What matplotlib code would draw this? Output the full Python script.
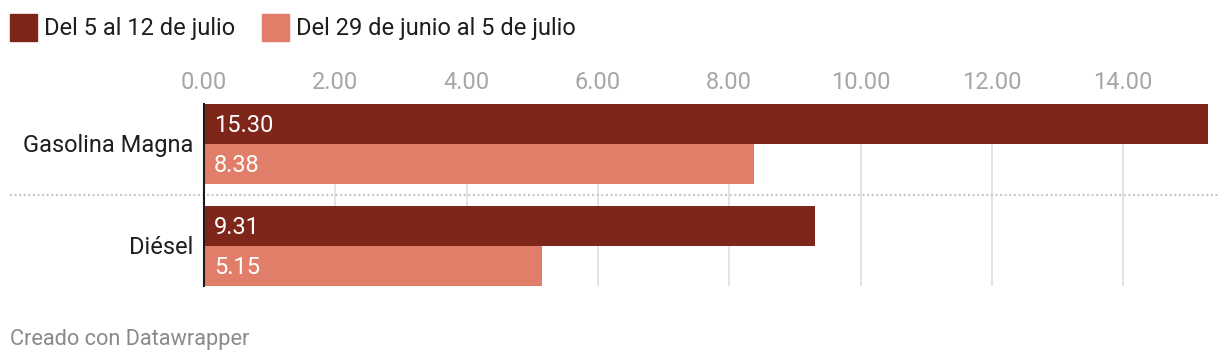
import matplotlib.pyplot as plt
from matplotlib.patches import Rectangle
from matplotlib.transforms import blended_transform_factory

# Datos
categorias = ["Gasolina Magna", "Diésel"]
serie_nombres = ["Del 5 al 12 de julio", "Del 29 de junio al 5 de julio"]
valores_reciente = [15.30, 9.31]
valores_anterior = [8.38, 5.15]
ticks = [0, 2, 4, 6, 8, 10, 12, 14]

dark = "#7f261b"
light = "#e07e69"
text_col = "#1e1e1e"

plt.rcParams['font.family'] = ['Roboto', 'DejaVu Sans']

W, H = 1220, 364
fig = plt.figure(figsize=(W / 100, H / 100), dpi=100)

# Ejes en coordenadas de píxel
left, right, top, bottom = 204, 1220, 104, 286
ax = fig.add_axes([left / W, 1 - bottom / H, (right - left) / W, (bottom - top) / H])

h = 40 / 102  # altura de cada barra (unidades de grupo)
ypos = list(range(len(categorias)))

ax.barh([y - h / 2 for y in ypos], valores_reciente, height=h, color=dark, zorder=2)
ax.barh([y + h / 2 for y in ypos], valores_anterior, height=h, color=light, zorder=2)

# Etiquetas de valor dentro de las barras
for y, v in zip(ypos, valores_reciente):
    ax.annotate(f"{v:.2f}", xy=(0, y - h / 2), xytext=(7.2, -1.3), textcoords='offset points',
                ha='left', va='center', color='white', fontsize=17, zorder=3)
for y, v in zip(ypos, valores_anterior):
    ax.annotate(f"{v:.2f}", xy=(0, y + h / 2), xytext=(7.2, -1.3), textcoords='offset points',
                ha='left', va='center', color='white', fontsize=17, zorder=3)

ax.set_xlim(0, (right - left) / 65.65)
ax.set_ylim(ypos[-1] + h, ypos[0] - h)

# Eje x arriba
ax.xaxis.tick_top()
ax.set_xticks(ticks)
ax.set_xticklabels([f"{t:.2f}" for t in ticks])
ax.tick_params(axis='x', length=0, pad=7, labelsize=17, labelcolor="#a6a6a6")
ax.set_yticks([])
for xt in ticks[1:]:
    ax.axvline(xt, color="#e4e4e4", lw=1.4, zorder=1)

for s in ['top', 'right', 'bottom']:
    ax.spines[s].set_visible(False)
ax.spines['left'].set_linewidth(1.5)
ax.spines['left'].set_color('#1a1a1a')
ax.spines['left'].set_zorder(4)

# Etiquetas de categoría
tr = blended_transform_factory(fig.transFigure, ax.transData)
for y, c in zip(ypos, categorias):
    ax.annotate(c, xy=(193 / W, y), xycoords=tr, xytext=(0, -1), textcoords='offset points',
                ha='right', va='center', fontsize=17, color=text_col)

# Separador punteado
ax.plot([10 / W, 1], [0.5, 0.5], transform=tr, clip_on=False, color="#c8c8c8",
        lw=1.5, linestyle=(0, (1, 1.2)), zorder=1)

# Leyenda
sq = 27
lx = [10, 262]
for x0, nombre, col in zip(lx, serie_nombres, [dark, light]):
    fig.patches.append(Rectangle((x0 / W, 1 - (14 + sq) / H), sq / W, sq / H,
                                 transform=fig.transFigure, color=col))
    fig.text((x0 + sq + 7) / W, 1 - 28.5 / H, nombre, ha='left', va='center',
             fontsize=17, color=text_col)

# Pie
fig.text(10 / W, 1 - 339.5 / H, "Creado con Datawrapper", ha='left', va='center',
         fontsize=15.7, color="#8a8a8a")

fig.savefig("out.png", dpi=100, facecolor='white')
